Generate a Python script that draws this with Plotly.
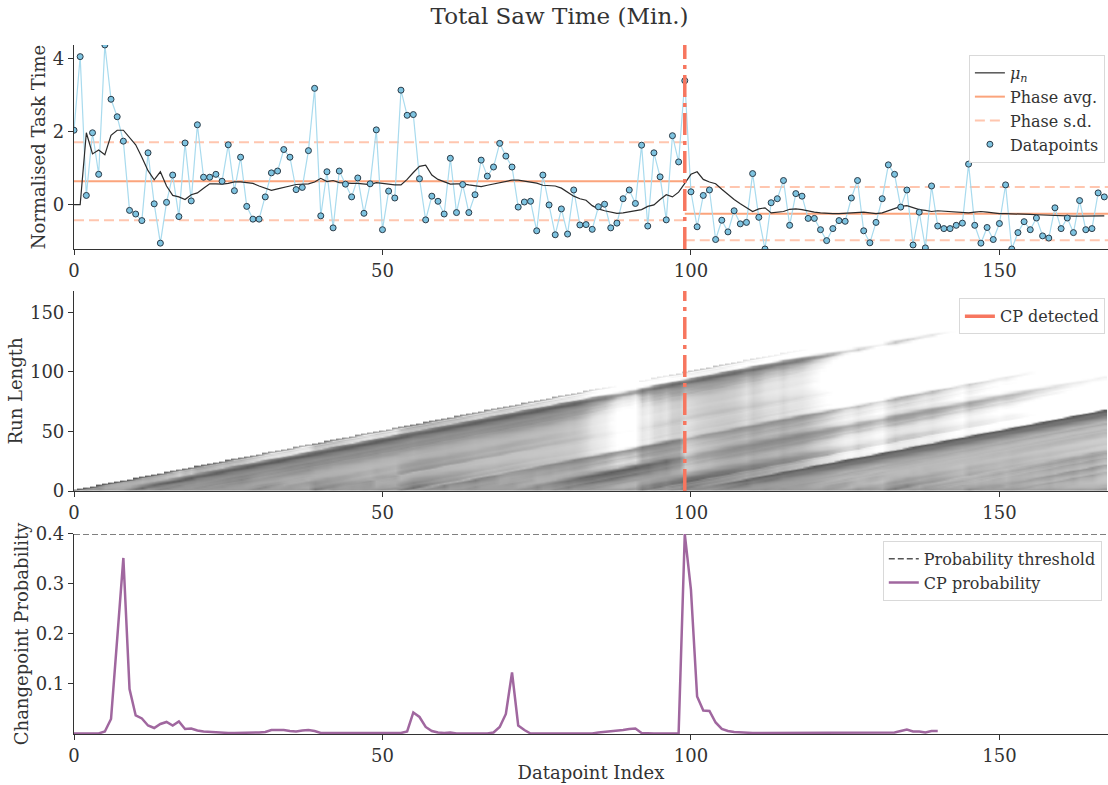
import math
import numpy as np
import plotly.graph_objects as go

# ---------------------------------------------------------------- data
task_time = [
    2.04, 4.06, 0.25, 1.97, 0.83, 4.38, 2.89, 2.41, 1.74, -0.16,
    -0.26, -0.44, 1.42, 0.02, -1.06, 0.06, 0.81, -0.33, 1.69, 0.10,
    2.19, 0.75, 0.75, 0.83, 0.64, 1.64, 0.38, 1.30, -0.05, -0.40,
    -0.40, 0.21, 0.87, 0.92, 1.51, 1.30, 0.41, 0.47, 1.48, 3.19,
    -0.31, 0.90, -0.64, 0.92, 0.56, 0.21, 0.73, -0.24, 0.57, 2.05,
    -0.69, 0.37, 0.18, 3.14, 2.45, 2.47, 0.71, -0.42, 0.23, 0.09,
    -0.26, 1.27, -0.22, 0.55, -0.22, 0.27, 1.22, 0.78, 1.03, 1.68,
    1.33, 1.03, -0.07, 0.07, 0.09, -0.72, 0.81, -0.01, -0.83, -0.12,
    -0.81, 0.40, -0.56, -0.55, -0.68, -0.06, 0.01, -0.64, -0.51, 0.16,
    0.40, 0.03, 1.63, -0.59, 1.42, 0.76, -0.42, 1.89, 1.17, 3.40,
    0.35, -0.61, 0.25, 0.40, -0.96, -0.43, -0.75, -0.17, -0.53, -0.49,
    0.85, -0.35, -1.22, 0.05, 0.16, 0.66, -0.57, 0.30, 0.23, -0.38,
    -0.38, -0.69, -0.99, -0.66, -0.44, -0.46, 0.18, 0.66, -0.72, -1.05,
    -0.49, 0.16, 1.09, 0.83, -0.07, 0.40, -1.11, -0.21, -1.19, 0.51,
    -0.59, -0.66, -0.66, -0.57, -0.51, 1.11, -0.57, -1.06, -0.63, -0.96,
    -0.52, 0.54, -1.22, -0.77, -0.47, -0.69, -0.37, -0.86, -0.92, -0.09,
    -0.66, -0.37, -0.77, 0.11, -0.69, -0.66, 0.32, 0.21,
]

posterior_mean = [
    0.0, 0.0, 1.97, 1.39, 1.50, 1.37, 1.90, 2.04, 2.04, 1.85,
    1.64, 1.30, 0.93, 0.68, 0.90, 0.51, 0.25, 0.21, 0.14, 0.27,
    0.32, 0.45, 0.57, 0.57, 0.56, 0.58, 0.62, 0.62, 0.61, 0.58,
    0.51, 0.44, 0.39, 0.43, 0.46, 0.51, 0.55, 0.55, 0.57, 0.62,
    0.72, 0.63, 0.66, 0.60, 0.58, 0.58, 0.58, 0.56, 0.55, 0.60,
    0.58, 0.54, 0.54, 0.54, 0.69, 0.88, 1.05, 1.08, 0.81, 0.69,
    0.62, 0.56, 0.57, 0.57, 0.54, 0.51, 0.49, 0.53, 0.56, 0.59,
    0.64, 0.67, 0.67, 0.64, 0.62, 0.59, 0.53, 0.51, 0.51, 0.45,
    0.34, 0.23, 0.16, 0.12, -0.03, -0.12, -0.17, -0.20, -0.24, -0.23,
    -0.20, -0.17, -0.14, -0.05, -0.01, 0.14, 0.27, 0.21, 0.34, 0.58,
    0.83, 0.90, 0.69, 0.62, 0.57, 0.42, 0.27, 0.14, 0.02, -0.09,
    -0.19, -0.12, -0.09, -0.23, -0.21, -0.19, -0.13, -0.12, -0.14, -0.18,
    -0.21, -0.23, -0.25, -0.25, -0.25, -0.24, -0.23, -0.21, -0.21, -0.23,
    -0.25, -0.23, -0.17, -0.09, -0.05, -0.03, -0.09, -0.14, -0.16, -0.19,
    -0.17, -0.18, -0.21, -0.21, -0.21, -0.23, -0.21, -0.19, -0.21, -0.24,
    -0.25, -0.25, -0.25, -0.25, -0.26, -0.27, -0.28, -0.29, -0.30, -0.30,
    -0.30, -0.31, -0.32, -0.32, -0.32, -0.32, -0.32, -0.31,
]

cp_probability = [
    0.001, 0.001, 0.001, 0.001, 0.001, 0.005, 0.030, 0.190, 0.352, 0.090,
    0.037, 0.031, 0.017, 0.012, 0.020, 0.024, 0.017, 0.025, 0.010, 0.011,
    0.007, 0.005, 0.004, 0.003, 0.003, 0.002, 0.002, 0.002, 0.002, 0.002,
    0.003, 0.004, 0.008, 0.008, 0.008, 0.006, 0.005, 0.007, 0.008, 0.006,
    0.002, 0.002, 0.002, 0.002, 0.002, 0.003, 0.003, 0.003, 0.003, 0.002,
    0.002, 0.002, 0.002, 0.002, 0.005, 0.043, 0.034, 0.014, 0.006, 0.003,
    0.002, 0.003, 0.001, 0.001, 0.001, 0.001, 0.001, 0.001, 0.003, 0.014,
    0.040, 0.123, 0.017, 0.008, 0.001, 0.001, 0.001, 0.001, 0.001, 0.001,
    0.001, 0.001, 0.001, 0.001, 0.001, 0.003, 0.004, 0.006, 0.007, 0.008,
    0.010, 0.011, 0.002, 0.001, 0.001, 0.001, 0.001, 0.001, 0.001, 0.400,
    0.288, 0.075, 0.047, 0.046, 0.023, 0.010, 0.006, 0.004, 0.003, 0.002,
    0.002, 0.002, 0.002, 0.002, 0.002, 0.002, 0.002, 0.002, 0.002, 0.003,
    0.003, 0.003, 0.003, 0.003, 0.003, 0.003, 0.003, 0.003, 0.003, 0.002,
    0.002, 0.002, 0.002, 0.003, 0.006, 0.009, 0.005, 0.005, 0.003, 0.006,
    0.006,
]

changepoint = 99
phase_bounds = [0, 99, 168]
phase_avg = [0.64, -0.25]
phase_sd = [1.07, 0.73]
threshold = 0.4

x_idx = list(range(len(task_time)))
T = len(task_time)


# ------------------------------------------- run-length posterior (BOCPD)
def run_length_log_posterior(x, hazard=1 / 120, mu0=0.0, kappa0=1.0,
                             alpha0=1.0, beta0=1.0):
    n = len(x)
    log_r = np.full((n + 1, n + 1), -np.inf)
    log_r[0, 0] = 0.0
    mu = np.array([mu0])
    kappa = np.array([kappa0])
    alpha = np.array([alpha0])
    beta = np.array([beta0])
    lh, l1h = math.log(hazard), math.log(1 - hazard)
    for t, xt in enumerate(x):
        df = 2 * alpha
        s2 = beta * (kappa + 1) / (alpha * kappa)
        lg = np.array([math.lgamma((d + 1) / 2) - math.lgamma(d / 2) for d in df])
        log_pred = lg - 0.5 * np.log(df * np.pi * s2) \
            - (df + 1) / 2 * np.log1p((xt - mu) ** 2 / (df * s2))
        prev = log_r[:t + 1, t]
        growth = prev + log_pred + l1h
        cp_terms = prev + log_pred + lh
        m = cp_terms.max()
        cp = m + math.log(np.exp(cp_terms - m).sum())
        new = np.concatenate([[cp], growth])
        m2 = new.max()
        new = new - (m2 + math.log(np.exp(new - m2).sum()))
        log_r[:t + 2, t + 1] = new
        mu_new = (kappa * mu + xt) / (kappa + 1)
        beta_new = beta + kappa * (xt - mu) ** 2 / (2 * (kappa + 1))
        mu = np.concatenate([[mu0], mu_new])
        kappa = np.concatenate([[kappa0], kappa + 1])
        alpha = np.concatenate([[alpha0], alpha + 0.5])
        beta = np.concatenate([[beta0], beta_new])
    return log_r


LOG_FLOOR = -11
log_r = run_length_log_posterior(np.array(task_time))
z = log_r[:T, 1:T + 1].copy()
z[~np.isfinite(z)] = np.nan
z = np.where(np.isnan(z), np.nan, np.maximum(z, LOG_FLOOR))

# ---------------------------------------------------------------- figure
FONT = "DejaVu Serif"
INK = "#333333"
CP_RED = "#f7765f"
fig = go.Figure()

# top panel -------------------------------------------------------------
for k in range(2):
    x0, x1 = phase_bounds[k], phase_bounds[k + 1]
    for sgn in (1, -1):
        fig.add_trace(go.Scatter(
            x=[x0, x1], y=[phase_avg[k] + sgn * phase_sd[k]] * 2,
            mode="lines", line=dict(color="rgba(255,160,122,0.6)", width=2,
                                    dash="10px,5px"),
            name="Phase s.d.", legend="legend", legendrank=3,
            showlegend=(k == 0 and sgn == 1), hoverinfo="skip"))
    fig.add_trace(go.Scatter(
        x=[x0, x1], y=[phase_avg[k]] * 2, mode="lines",
        line=dict(color="#fba47c", width=2), name="Phase avg.",
        legend="legend", legendrank=2, showlegend=(k == 0), hoverinfo="skip"))

fig.add_trace(go.Scatter(
    x=x_idx, y=task_time, mode="lines",
    line=dict(color="#a9dbee", width=1.2), showlegend=False,
    hoverinfo="skip"))
fig.add_trace(go.Scatter(
    x=x_idx, y=posterior_mean, mode="lines",
    line=dict(color="#2b2b2b", width=1.2), name="<i>μ<sub>n</sub></i>",
    legend="legend", legendrank=1))
fig.add_trace(go.Scatter(
    x=x_idx, y=task_time, mode="markers",
    marker=dict(color="#7ec3e0", size=6,
                line=dict(color="#2a3b48", width=1)),
    name="Datapoints", legend="legend", legendrank=4))
fig.add_trace(go.Scatter(
    x=[changepoint, changepoint], y=[min(task_time), max(task_time)],
    mode="lines", line=dict(color=CP_RED, width=3.5,
                            dash="22px,6px,4px,6px"),
    showlegend=False, hoverinfo="skip"))

# middle panel ----------------------------------------------------------
fig.add_trace(go.Heatmap(
    x=x_idx, y=x_idx, z=z, xaxis="x2", yaxis="y2",
    colorscale=[[0, "#ffffff"], [0.2, "#e2e2e2"], [0.45, "#a2a2a2"],
                [1, "#4e4e4e"]],
    zmin=LOG_FLOOR, zmax=0, zsmooth="best",
    showscale=False, hoverinfo="skip"))
fig.add_trace(go.Scatter(
    x=[changepoint, changepoint], y=[0, 168], xaxis="x2", yaxis="y2",
    mode="lines", line=dict(color=CP_RED, width=3.5,
                            dash="22px,6px,4px,6px"),
    showlegend=False, hoverinfo="skip"))
# legend key for the detected changepoint
fig.add_trace(go.Scatter(
    x=[None], y=[None], xaxis="x2", yaxis="y2", mode="lines",
    line=dict(color=CP_RED, width=3.5), name="CP detected",
    legend="legend2"))

# bottom panel ----------------------------------------------------------
fig.add_trace(go.Scatter(
    x=[0, 168], y=[threshold, threshold], xaxis="x3", yaxis="y3",
    mode="lines", line=dict(color="#555555", width=1.5, dash="6px,3px"),
    name="Probability threshold", legend="legend3", cliponaxis=False))
fig.add_trace(go.Scatter(
    x=list(range(len(cp_probability))), y=cp_probability,
    xaxis="x3", yaxis="y3", mode="lines",
    line=dict(color="#a0679f", width=2.5), name="CP probability",
    legend="legend3"))

# axes --------------------------------------------------------------------
axis_common = dict(showline=True, linecolor=INK, linewidth=1.2,
                   ticks="outside", ticklen=5, tickcolor=INK, tickwidth=1.2,
                   showgrid=False, zeroline=False, automargin=False,
                   tickfont=dict(family=FONT, size=18, color=INK),
                   title_font=dict(family=FONT, size=18, color=INK))
xdom = [0.0, 1.0]
xr = [0, 167.6]
fig.update_layout(
    xaxis=dict(domain=xdom, range=xr, anchor="y",
               tickvals=[0, 50, 100, 150], **axis_common),
    yaxis=dict(domain=[0.6828, 0.9427],
               range=[min(task_time), max(task_time)],
               tickvals=[0, 2, 4], title_text="Normalised Task Time",
               title_standoff=2, **axis_common),
    xaxis2=dict(domain=xdom, range=xr, anchor="y2",
                tickvals=[0, 50, 100, 150], **axis_common),
    yaxis2=dict(domain=[0.3745, 0.6293], range=[0, 168], anchor="x2",
                tickvals=[0, 50, 100, 150], title_text="Run Length",
                title_standoff=2, **axis_common),
    xaxis3=dict(domain=xdom, range=xr, anchor="y3",
                tickvals=[0, 50, 100, 150], title_text="Datapoint Index",
                title_standoff=1, **axis_common),
    yaxis3=dict(domain=[0.0650, 0.3198], range=[0, 0.4], anchor="x3",
                tickvals=[0.1, 0.2, 0.3, 0.4], title_text="Changepoint Probability",
                title_standoff=2, **axis_common),
)

legend_common = dict(bgcolor="rgba(255,255,255,0.85)", bordercolor="#d9d9d9",
                     borderwidth=1, xanchor="right", yanchor="top",
                     font=dict(family=FONT, size=16, color=INK),
                     tracegroupgap=0, traceorder="normal")
fig.update_layout(
    legend=dict(x=0.997, y=0.930, **legend_common),
    legend2=dict(x=0.997, y=0.620, **legend_common),
    legend3=dict(x=0.994, y=0.311, **legend_common),
)

fig.update_layout(
    width=1108, height=785,
    margin=dict(l=74, r=0, t=0, b=0, autoexpand=False),
    paper_bgcolor="white", plot_bgcolor="white",
    font=dict(family=FONT, color=INK),
    title=dict(text="Total Saw Time (Min.)", x=0.505, xanchor="center",
               xref="container", y=0.98, yanchor="middle",
               font=dict(family=FONT, size=23, color=INK)),
)

fig.write_html("out.html")
